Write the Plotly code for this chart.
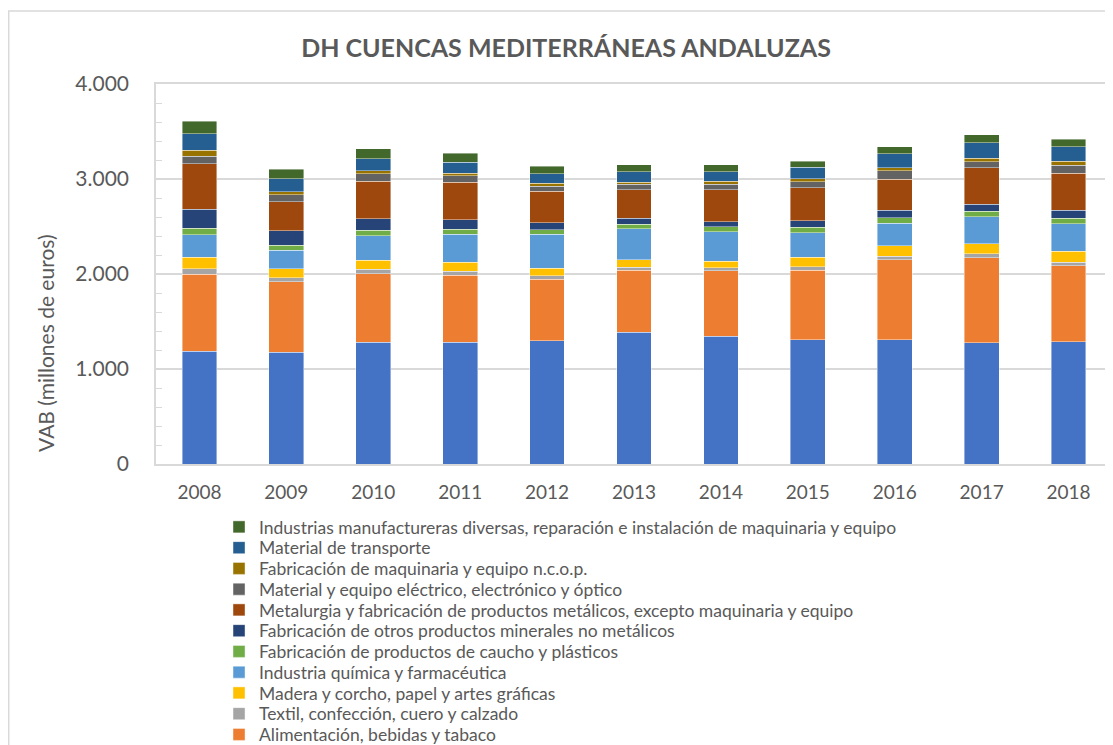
import plotly.graph_objects as go

years = ["2008", "2009", "2010", "2011", "2012", "2013", "2014", "2015", "2016", "2017", "2018"]

# Series values (millones de euros), bottom to top of each stack
extractivas_energia = [1189, 1179, 1284, 1284, 1295, 1386, 1347, 1309, 1309, 1278, 1288]
alimentacion = [808, 741, 720, 705, 652, 656, 685, 733, 843, 895, 800]
textil = [56, 42, 45, 39, 36, 29, 35, 36, 37, 38, 38]
madera = [126, 95, 95, 95, 80, 81, 67, 98, 106, 109, 113]
quimica = [236, 192, 260, 295, 355, 322, 312, 256, 239, 284, 292]
caucho = [66, 53, 56, 53, 49, 49, 49, 60, 60, 56, 55]
minerales = [203, 151, 123, 102, 74, 63, 57, 70, 77, 74, 85]
metalurgia = [478, 309, 393, 392, 330, 302, 336, 347, 329, 386, 389]
electrico = [80, 70, 77, 67, 55, 56, 59, 64, 88, 63, 87]
maquinaria = [60, 35, 35, 28, 29, 24, 29, 31, 32, 38, 39]
transporte = [172, 137, 123, 119, 102, 110, 102, 119, 147, 162, 155]
diversas = [133, 101, 105, 92, 77, 74, 74, 66, 74, 84, 80]

series_names = [
    "Industrias extractivas, energía, agua y residuos",
    "Alimentación, bebidas y tabaco",
    "Textil, confección, cuero y calzado",
    "Madera y corcho, papel y artes gráficas",
    "Industria química y farmacéutica",
    "Fabricación de productos de caucho y plásticos",
    "Fabricación de otros productos minerales no metálicos",
    "Metalurgia y fabricación de productos metálicos, excepto maquinaria y equipo",
    "Material y equipo eléctrico, electrónico y óptico",
    "Fabricación de maquinaria y equipo n.c.o.p.",
    "Material de transporte",
    "Industrias manufactureras diversas, reparación e instalación de maquinaria y equipo",
]
series_values = [extractivas_energia, alimentacion, textil, madera, quimica, caucho,
                 minerales, metalurgia, electrico, maquinaria, transporte, diversas]
series_colors = ["#4472C4", "#ED7D31", "#A5A5A5", "#FFC000", "#5B9BD5", "#70AD47",
                 "#264478", "#9E480E", "#636363", "#997300", "#255E91", "#43682B"]

title_text = "DH CUENCAS MEDITERRÁNEAS ANDALUZAS"
y_title = "VAB (millones de euros)"

FONT = "Lato"
TXT = "#595959"
GRID = "#D9D9D9"

# page offset of the plotly div (default body margin)
OFF = 8
W, H = 1113 - OFF, 745 - OFF
# plot area in page pixels
PL, PR, PT, PB = 156, 1111.6, 84, 464
pw, ph = PR - PL, PB - PT

def px_x(x):
    return (x - PL) / pw

def px_y(y):
    return (PB - y) / ph

# legend rows (page px): top row centre and row pitch
LEG_X = 219
LEG_TOP = 527
LEG_STEP = 20.75

fig = go.Figure()
n = len(series_names)
layout_legends = {}
for i, (name, vals, col) in enumerate(zip(series_names, series_values, series_colors)):
    row = n - 1 - i  # top legend row is the last series
    lname = "legend" if i == 1 else f"legend{i + 1}"
    fig.add_trace(go.Bar(
        x=years, y=vals, name=name,
        marker=dict(color=col, line=dict(color="rgba(255,255,255,0.6)", width=0.7)),
        legend=lname,
        showlegend=(i != 0),
    ))
    if i != 0:
        layout_legends[lname] = dict(
            x=px_x(LEG_X), y=px_y(LEG_TOP + row * LEG_STEP),
            xanchor="left", yanchor="middle",
            font=dict(family=FONT, size=17.5, color=TXT),
            bgcolor="rgba(0,0,0,0)", borderwidth=0,
        )

fig.update_layout(
    width=W, height=H,
    barmode="stack", bargap=0.6,
    paper_bgcolor="white", plot_bgcolor="white",
    separators=",.",
    font=dict(family=FONT, color=TXT),
    margin=dict(l=PL - OFF, r=W - (PR - OFF), t=PT - OFF, b=H - (PB - OFF), autoexpand=False),
    title=dict(text="<b>" + title_text + "</b>", xref="container", yref="container",
               x=(566 - OFF) / W, y=1 - (48 - OFF) / H, xanchor="center", yanchor="middle",
               font=dict(family=FONT, size=25, color=TXT)),
    xaxis=dict(
        type="category", showline=True, linecolor=GRID, linewidth=1.5, mirror=True,
        ticks="", tickfont=dict(family=FONT, size=19, color=TXT),
        ticklabelstandoff=10,
    ),
    yaxis=dict(
        range=[0, 4000], dtick=1000, tickformat=",.0f",
        showgrid=True, gridcolor=GRID, gridwidth=1.5,
        showline=True, linecolor=GRID, linewidth=1.5, mirror=True,
        ticks="", zeroline=False,
        tickfont=dict(family=FONT, size=21, color=TXT),
        ticklabelstandoff=21,
        minor=dict(dtick=200, ticks="inside", ticklen=6, tickcolor=GRID, tickwidth=1,
                   showgrid=False),
    ),
    annotations=[dict(
        text=y_title, xref="paper", yref="paper", x=px_x(45), y=px_y(343),
        showarrow=False, textangle=-90, xanchor="center", yanchor="middle",
        font=dict(family=FONT, size=21, color=TXT),
    )],
    shapes=[dict(
        type="rect", xref="paper", yref="paper",
        x0=px_x(8.75), x1=px_x(1140), y0=px_y(11), y1=px_y(780),
        line=dict(color=GRID, width=1.5), layer="below",
    )],
    **layout_legends,
)

fig.write_html("out.html")
